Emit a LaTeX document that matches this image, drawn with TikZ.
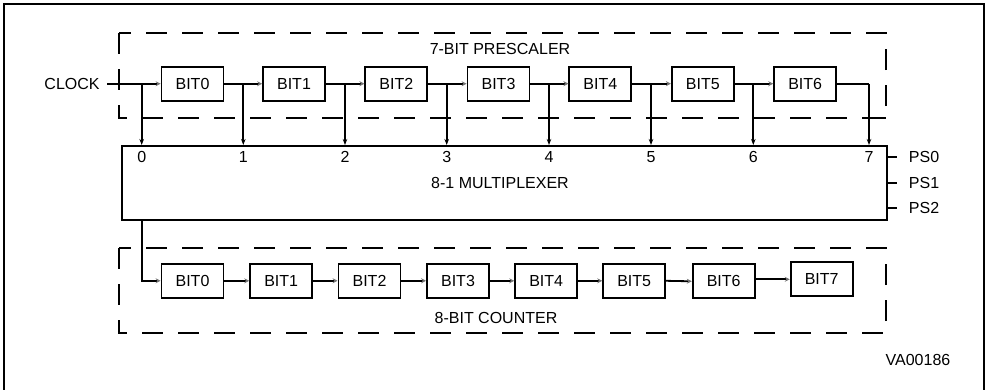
\documentclass[tikz,border=0pt]{standalone}
\usepackage{fontspec}
\setmainfont{Liberation Sans}
\usetikzlibrary{arrows.meta,calc}
\begin{document}
\begin{tikzpicture}[x=1pt,y=-1pt,
  line width=1.8pt,
  bitbox/.style={draw,line width=1.8pt,minimum width=62pt,minimum height=34pt,inner sep=0pt,font=\fontsize{16}{19}\selectfont},
  dashbox/.style={draw,line width=1.8pt,dash pattern=on 21pt off 15pt},
  lbl/.style={font=\fontsize{16}{19}\selectfont,inner sep=0pt},
  link/.style={draw,line width=1.8pt,-{Stealth[length=5pt,width=5pt,color=black!55]}},
  tap/.style={draw,line width=1.8pt,-{Stealth[length=6pt,width=4.5pt]}}]
\useasboundingbox (0,0) rectangle (988,389);
% outer frame
\draw[line width=2pt] (4,395) -- (4,4) -- (984,4) -- (984,395);
% prescaler dashed box
\draw[dashbox] (119.3,33.3) rectangle (886,118.3);
\node[lbl] (plabel) at (500,48.5) {7-BIT PRESCALER};
% prescaler bits
\node[bitbox] (p0) at (192.5,83.7) {BIT0};
\node[bitbox] (p1) at (294,83.7) {BIT1};
\node[bitbox] (p2) at (396.3,83.7) {BIT2};
\node[bitbox] (p3) at (498.5,83.7) {BIT3};
\node[bitbox] (p4) at (600.3,83.7) {BIT4};
\node[bitbox] (p5) at (702.8,83.7) {BIT5};
\node[bitbox] (p6) at (805.2,83.7) {BIT6};
\node[lbl,anchor=east] (clk) at (100.5,84) {CLOCK};
\coordinate (clkend) at (107,83.7);
% tap points
\coordinate (t0) at (141.7,83.7);
\coordinate (t1) at (243.3,83.7);
\coordinate (t2) at (345,83.7);
\coordinate (t3) at (446.7,83.7);
\coordinate (t4) at (549,83.7);
\coordinate (t5) at (651,83.7);
\coordinate (t6) at (753.3,83.7);
\coordinate (t7) at (869,83.7);
% multiplexer
\node[draw,line width=1.8pt,minimum width=765.3pt,minimum height=74.3pt,inner sep=0pt,anchor=north west] (mux) at (120.7,145) {};
\node[lbl] (mlabel) at (500,182.5) {8-1 MULTIPLEXER};
% prescaler chain
\draw[link] (clkend) -- (p0.west);
\draw[link] (p0.east) -- (p1.west);
\draw[link] (p1.east) -- (p2.west);
\draw[link] (p2.east) -- (p3.west);
\draw[link] (p3.east) -- (p4.west);
\draw[link] (p4.east) -- (p5.west);
\draw[link] (p5.east) -- (p6.west);
\draw (p6.east) -- (t7);
\draw (t7 |- 0,118.3) -- (886,118.3);
% taps
\foreach \i in {0,...,7}{
  \draw[tap] (t\i) -- (t\i |- mux.north);
  \node[lbl] (n\i) at ($(t\i |- mux.north)+(0,12)$) {\i};
}
% select inputs
\foreach \i/\y in {0/157,1/182.7,2/208.3}{
  \coordinate (ps\i) at (897,\y);
  \draw (mux.east |- ps\i) -- (ps\i);
  \node[lbl,anchor=west] (psl\i) at (908,\y) {PS\i};
}
% counter dashed box
\draw[dashbox] (119.3,248.3) rectangle (886,333.3);
\node[lbl] (clabel) at (496,317.5) {8-BIT COUNTER};
% counter bits
\node[bitbox] (c0) at (192.5,280.8) {BIT0};
\node[bitbox] (c1) at (281.2,280.8) {BIT1};
\node[bitbox] (c2) at (369.5,280.8) {BIT2};
\node[bitbox] (c3) at (458,280.8) {BIT3};
\node[bitbox] (c4) at (546.2,280.8) {BIT4};
\node[bitbox] (c5) at (634.2,280.8) {BIT5};
\node[bitbox] (c6) at (723.7,281.3) {BIT6};
\node[bitbox] (c7) at (821.7,278.8) {BIT7};
\coordinate (mout) at (141.7,219.3);
\draw[link] (mout) |- (c0.west);
\draw[link] (c0.east) -- (c1.west);
\draw[link] (c1.east) -- (c2.west);
\draw[link] (c2.east) -- (c3.west);
\draw[link] (c3.east) -- (c4.west);
\draw[link] (c4.east) -- (c5.west);
\draw[link] (c5.east) -- (c6.west);
\draw[link] (c6.east |- 0,279.3) -- (c7.west |- 0,279.3);
\node[lbl] (code) at (918,360) {VA00186};
\end{tikzpicture}
\end{document}
